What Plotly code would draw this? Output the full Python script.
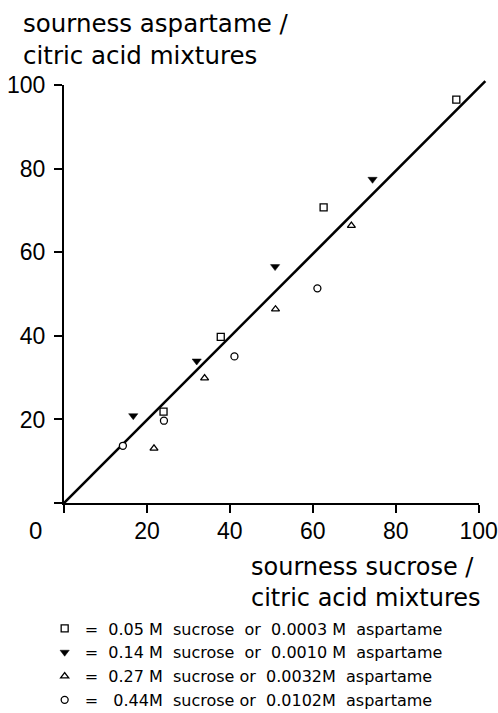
import plotly.graph_objects as go

# ---------------- data ----------------
sq_x = [94.6, 62.6, 37.8, 24.0]          # 0.05 M sucrose / 0.0003 M aspartame
sq_y = [96.6, 70.8, 39.8, 21.9]
td_x = [74.4, 50.9, 32.0, 16.7]          # 0.14 M sucrose / 0.0010 M aspartame
td_y = [77.5, 56.6, 34.0, 20.9]
tu_x = [69.3, 51.0, 33.9, 21.7]          # 0.27 M sucrose / 0.0032 M aspartame
tu_y = [66.4, 46.4, 29.9, 13.1]
ci_x = [61.1, 41.1, 24.1, 14.2]          # 0.44 M sucrose / 0.0102 M aspartame
ci_y = [51.4, 35.1, 19.7, 13.7]
fit_x = [0, 101.6]
fit_y = [0, 101.0]

tick_vals = [0, 20, 40, 60, 80, 100]
tick_text = ["", "20", "40", "60", "80", "100"]

NB = "\u00a0"
series_names = [
    f"={NB} 0.05 M{NB} sucrose{NB} or{NB} 0.0003 M{NB} aspartame",
    f"={NB} 0.14 M{NB} sucrose{NB} or{NB} 0.0010 M{NB} aspartame",
    f"={NB} 0.27 M{NB} sucrose or{NB} 0.0032M{NB} aspartame",
    f"={NB}{NB} 0.44M{NB} sucrose or{NB} 0.0102M{NB} aspartame",
]
y_title_lines = ["sourness aspartame /", "citric acid mixtures"]
x_title_lines = ["sourness sucrose /", "citric acid mixtures"]
origin_label = "0"

# ---------------- geometry ----------------
W, H = 498, 713
L = 64.3          # pixel of x = 0
X100 = 478.3      # pixel of x = 100
Y0 = 503.3        # pixel of y = 0
Y100 = 85.0       # pixel of y = 100
XMAX, YMAX = 102, 102
ppx = (X100 - L) / 100
ppy = (Y0 - Y100) / 100
R = W - (L + XMAX * ppx)
T = Y0 - YMAX * ppy
B = H - Y0
PW = W - L - R
PH = H - T - B


def px2paper_x(p):
    return (p - L) / PW


def px2paper_y(p):
    return (Y0 - p) / PH


TEXT_FONT = "DejaVu Sans, Liberation Sans, sans-serif"
TICK_FONT = "Liberation Sans, Arial, sans-serif"

fig = go.Figure()

fig.add_trace(go.Scatter(x=fit_x, y=fit_y, mode="lines",
                         line=dict(color="black", width=2.6),
                         showlegend=False, hoverinfo="skip"))

marker_line = dict(color="black", width=1.3)
fig.add_trace(go.Scatter(x=sq_x, y=sq_y, mode="markers", name=series_names[0],
                         marker=dict(symbol="square", size=7, color="white", line=marker_line)))
fig.add_trace(go.Scatter(x=td_x, y=td_y, mode="markers", name=series_names[1],
                         marker=dict(symbol="triangle-down", size=8, color="black",
                                     line=dict(color="black", width=0.5))))
fig.add_trace(go.Scatter(x=tu_x, y=tu_y, mode="markers", name=series_names[2],
                         marker=dict(symbol="triangle-up", size=7, color="white", line=marker_line)))
fig.add_trace(go.Scatter(x=ci_x, y=ci_y, mode="markers", name=series_names[3],
                         marker=dict(symbol="circle", size=7, color="white", line=marker_line)))

# empty trace so the decorated axis pair is drawn
fig.add_trace(go.Scatter(x=[], y=[], xaxis="x2", yaxis="y2", showlegend=False,
                         hoverinfo="skip"))

axis_common = dict(
    range=[0, 100], showline=True, linecolor="black", linewidth=2,
    ticks="outside", ticklen=8, tickwidth=2, tickcolor="black",
    tickmode="array", tickvals=tick_vals, ticktext=tick_text,
    tickfont=dict(family=TICK_FONT, size=23, color="black"),
    ticklabeloverflow="allow",
    showgrid=False, zeroline=False, fixedrange=True,
)

fig.update_layout(
    width=W, height=H,
    margin=dict(l=L, r=R, t=T, b=B, pad=0, autoexpand=False),
    paper_bgcolor="white", plot_bgcolor="rgba(0,0,0,0)",
    xaxis=dict(range=[0, XMAX], domain=[0, 1], visible=False, fixedrange=True),
    yaxis=dict(range=[0, YMAX], domain=[0, 1], visible=False, fixedrange=True),
    xaxis2=dict(domain=[0, 100 / XMAX], anchor="y2", ticklabelstandoff=-2, **axis_common),
    yaxis2=dict(domain=[0, 100 / YMAX], anchor="x2", ticklabelstandoff=4, **axis_common),
    showlegend=True,
    legend=dict(
        x=px2paper_x(45), y=px2paper_y(612), xanchor="left", yanchor="top",
        bgcolor="rgba(0,0,0,0)", borderwidth=0,
        font=dict(family=TEXT_FONT, size=16, color="black"),
        itemclick=False, itemdoubleclick=False,
    ),
    annotations=[
        dict(text="<br>".join(y_title_lines), xref="paper", yref="paper",
             x=px2paper_x(21), y=px2paper_y(7), xanchor="left", yanchor="top",
             align="left", showarrow=False,
             font=dict(family=TEXT_FONT, size=24.5, color="black")),
        dict(text="<br>".join(x_title_lines), xref="paper", yref="paper",
             x=px2paper_x(249), y=px2paper_y(551), xanchor="left", yanchor="top",
             align="left", showarrow=False,
             font=dict(family=TEXT_FONT, size=24, color="black")),
        dict(text=origin_label, xref="paper", yref="paper",
             x=px2paper_x(36), y=px2paper_y(531), xanchor="center", yanchor="middle",
             showarrow=False,
             font=dict(family=TICK_FONT, size=24, color="black")),
    ],
)

fig.write_html("out.html")
